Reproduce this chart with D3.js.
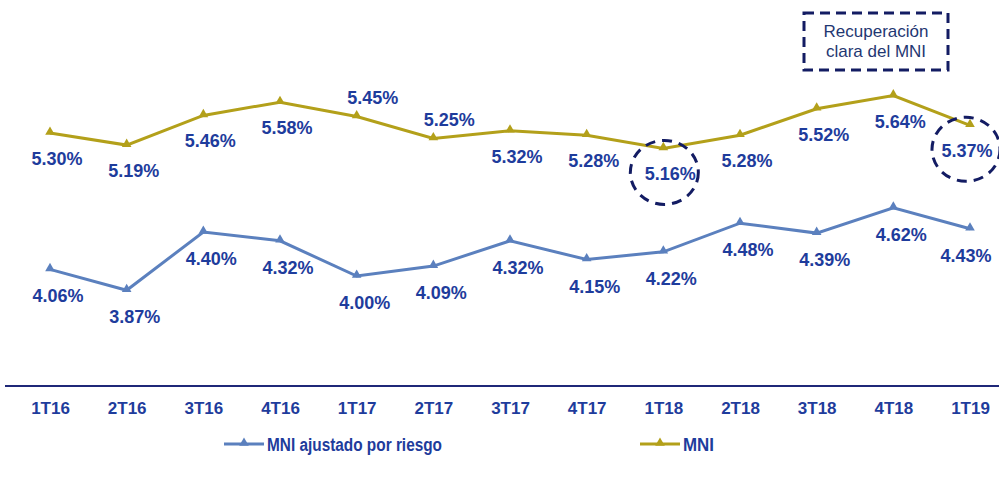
<!DOCTYPE html>
<html>
<head>
<meta charset="utf-8">
<script src="https://cdn.jsdelivr.net/npm/d3@7"></script>
<style>
  body { margin: 0; background: #fff; }
  #chart { width: 999px; height: 485px; }
  text { font-family: "Liberation Sans", Arial, sans-serif; }
</style>
</head>
<body>
<div id="chart"></div>
<script>
const QUARTERS = ["1T16", "2T16", "3T16", "4T16", "1T17", "2T17", "3T17", "4T17", "1T18", "2T18", "3T18", "4T18", "1T19"];
const MNI = [5.30, 5.19, 5.46, 5.58, 5.45, 5.25, 5.32, 5.28, 5.16, 5.28, 5.52, 5.64, 5.37];
const MNI_AJUSTADO = [4.06, 3.87, 4.40, 4.32, 4.00, 4.09, 4.32, 4.15, 4.22, 4.48, 4.39, 4.62, 4.43];
// where the mni labels sit ("up" = above the point)
const MNI_LABEL_SIDE = ["dn", "dn", "dn", "dn", "up", "up", "dn", "dn", "dn", "dn", "dn", "dn", "dn"];
const CIRCLED = ["1T18", "1T19"];
const NOTE_LINES = ["Recuperación", "clara del MNI"];
const LEGEND = ["MNI ajustado por riesgo", "MNI"];

const W = 999, H = 485;
const MNI_COLOR = "#B3A01A";
const ADJ_COLOR = "#5B80BE";
const LABEL_COLOR = "#1E3C9C";
const NAVY = "#131C63";

const svg = d3.select("#chart").append("svg")
    .attr("width", W)
    .attr("height", H);

const x = d3.scalePoint().domain(QUARTERS).range([50, 970]);
const y = d3.scaleLinear().domain([3, 6.5]).range([386, 1]);

// base line + category labels
const xAxis = d3.axisBottom(x).tickSize(0).tickPadding(16);
const gx = svg.append("g")
    .attr("transform", "translate(0,386)")
    .call(xAxis);
gx.select(".domain").remove();
gx.selectAll("text")
    .style("font-family", "'Liberation Sans', Arial, sans-serif")
    .style("font-weight", "bold")
    .style("font-size", "17px")
    .style("fill", LABEL_COLOR);

svg.append("line")
    .attr("x1", 5).attr("x2", W)
    .attr("y1", 386).attr("y2", 386)
    .style("stroke", "#1F2878")
    .style("stroke-width", 2);

const tri = d3.symbol().type(d3.symbolTriangle).size(40);

const line = d3.line()
    .x((d, i) => x(QUARTERS[i]))
    .y((d) => y(d));

const draw_series = (vals, color) => {
  svg.append("path")
      .attr("d", line(vals))
      .style("fill", "none")
      .style("stroke", color)
      .style("stroke-width", 3);
  svg.selectAll(null)
      .data(vals)
      .enter().append("path")
      .attr("d", tri)
      .attr("transform", (d, i) => "translate(" + x(QUARTERS[i]) + "," + (y(d) - 1) + ")")
      .style("fill", color);
}

draw_series(MNI, MNI_COLOR);
draw_series(MNI_AJUSTADO, ADJ_COLOR);

const fmt = (v) => v.toFixed(2) + "%";
const last = QUARTERS.length - 1;

svg.selectAll(null)
    .data(MNI)
    .enter().append("text")
    .attr("x", (d, i) => x(QUARTERS[i]) + (i == last ? -3 : (MNI_LABEL_SIDE[i] == "up" ? 16 : 7)))
    .attr("y", (d, i) => y(d) + (MNI_LABEL_SIDE[i] == "up" ? -13 : 32))
    .style("text-anchor", "middle")
    .style("font-weight", "bold")
    .style("font-size", "18px")
    .style("fill", LABEL_COLOR)
    .text(fmt);

svg.selectAll(null)
    .data(MNI_AJUSTADO)
    .enter().append("text")
    .attr("x", (d, i) => x(QUARTERS[i]) + (i == last ? -4 : 8))
    .attr("y", (d) => y(d) + 33)
    .style("text-anchor", "middle")
    .style("font-weight", "bold")
    .style("font-size", "18px")
    .style("fill", LABEL_COLOR)
    .text(fmt);

// dashed circles round the highlighted labels
CIRCLED.forEach((q) => {
  const i = QUARTERS.indexOf(q);
  svg.append("ellipse")
      .attr("cx", x(q) + (i == last ? -4 : 1))
      .attr("cy", y(MNI[i]) + 24)
      .attr("rx", 34)
      .attr("ry", 32)
      .style("fill", "none")
      .style("stroke", NAVY)
      .style("stroke-width", 3)
      .style("stroke-dasharray", "10,7");
});

// note box
svg.append("rect")
    .attr("x", 804).attr("y", 13)
    .attr("width", 144).attr("height", 57)
    .style("fill", "none")
    .style("stroke", NAVY)
    .style("stroke-width", 3)
    .style("stroke-dasharray", "10,6");

svg.selectAll(null)
    .data(NOTE_LINES)
    .enter().append("text")
    .attr("x", 876)
    .attr("y", (d, i) => 37 + i * 20)
    .style("text-anchor", "middle")
    .style("font-size", "17px")
    .style("fill", "#1F3772")
    .text((d) => d);

// legend
const legend_x = [224, 640];
const legend_colors = [ADJ_COLOR, MNI_COLOR];
const legend_len = [175, 31];
LEGEND.forEach((name, i) => {
  const g = svg.append("g").attr("transform", "translate(" + legend_x[i] + ",444)");
  g.append("line")
      .attr("x1", 0).attr("x2", 40)
      .style("stroke", legend_colors[i])
      .style("stroke-width", 3);
  g.append("path")
      .attr("d", tri)
      .attr("transform", "translate(20,-1)")
      .style("fill", legend_colors[i]);
  g.append("text")
      .attr("x", 43)
      .attr("y", 7)
      .attr("textLength", legend_len[i])
      .attr("lengthAdjust", "spacingAndGlyphs")
      .style("font-weight", "bold")
      .style("font-size", "18px")
      .style("fill", LABEL_COLOR)
      .text(name);
});
</script>
</body>
</html>
